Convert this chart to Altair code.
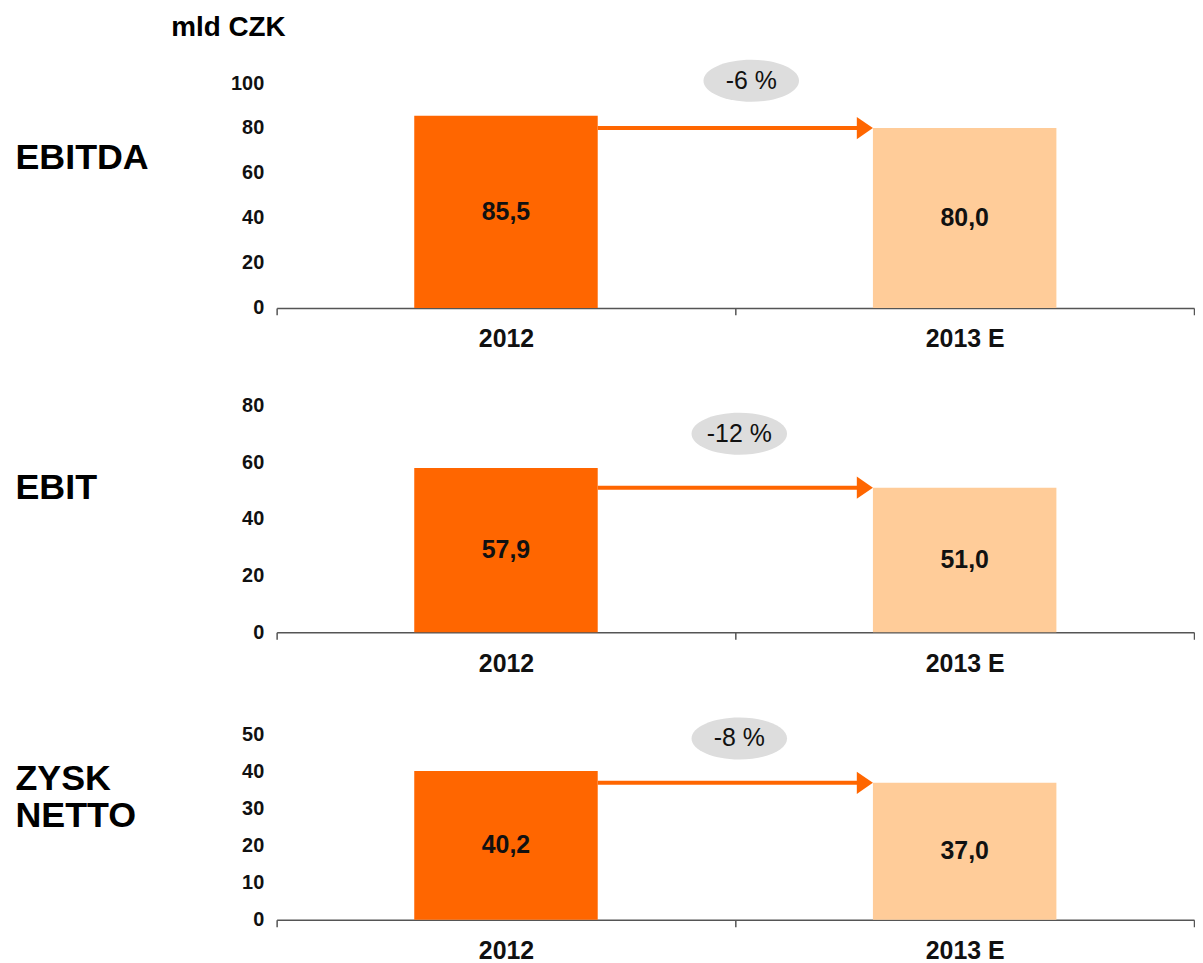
import altair as alt
import pandas as pd

# ---- data ----
categories = ["2012", "2013 E"]
panel_names = ["EBITDA", "EBIT", ["ZYSK", "NETTO"]]
ebitda = [85.5, 80.0]
ebit = [57.9, 51.0]
zysk_netto = [40.2, 37.0]
changes = ["-6 %", "-12 %", "-8 %"]
y_max = [100, 80, 50]
y_step = [20, 20, 10]
badge_y = [101, 70, 49]
unit = "mld CZK"

DARK = "#FF6600"
LIGHT = "#FFCC99"
FONT = "Liberation Sans"
W = 922
heights = [226, 228, 186]
title_y = [58, 66, 27]
badge_dx = [16, 4, 4]

ELLIPSE = "M -1 0 A 1 0.44 0 1 0 1 0 A 1 0.44 0 1 0 -1 0 Z"
ARROWHEAD = "M -1.45 -1 L 0 0 L -1.45 1 Z"


def fmt(v):
    return f"{v:.1f}".replace(".", ",")


def panel(values, name, change, ymax, step, by, h, ty, bdx):
    df = pd.DataFrame({
        "cat": categories,
        "value": values,
        "label": [fmt(v) for v in values],
    })
    xscale = alt.Scale(paddingInner=0, paddingOuter=0)
    yscale = alt.Scale(domain=[0, ymax], nice=False)
    xaxis = alt.Axis(
        title=None, labelAngle=0, labelFontSize=25, labelFontWeight="bold",
        labelColor="#111111", labelPadding=12, domainColor="#555555",
        domainWidth=1.5, tickColor="#555555", tickWidth=1.5, tickSize=7,
        tickBand="extent", grid=False,
    )
    yaxis = alt.Axis(
        title=name, titleAngle=0, titleAlign="left", titleBaseline="top",
        titleX=-263, titleY=ty, titleFontSize=36, titleFontWeight="bold",
        titleColor="#000000", titleLineHeight=37,
        values=list(range(0, ymax + 1, step)), labelFontSize=20,
        labelFontWeight="bold", labelColor="#111111", labelPadding=13,
        labelOverlap=False, labelBound=False,
        domain=False, ticks=False, grid=False,
    )
    base = alt.Chart(df)
    bars = base.mark_bar(width=alt.RelativeBandSize(0.4)).encode(
        x=alt.X("cat:N", sort=categories, scale=xscale, axis=xaxis),
        y=alt.Y("value:Q", scale=yscale, axis=yaxis),
        color=alt.Color("cat:N", sort=categories,
                        scale=alt.Scale(domain=categories, range=[DARK, LIGHT]),
                        legend=None),
    )
    labels = base.transform_calculate(mid="datum.value / 2").mark_text(
        fontSize=25, fontWeight="bold", color="#111111", font=FONT
    ).encode(
        x=alt.X("cat:N", sort=categories, axis=xaxis),
        y=alt.Y("mid:Q", axis=yaxis),
        text="label:N",
    )
    arrow_df = pd.DataFrame({
        "start": [categories[0]],
        "end": [categories[1]],
        "target": [values[1]],
    })
    arrow = alt.Chart(arrow_df).mark_rule(color=DARK, strokeWidth=4).encode(
        x=alt.X("start:N", bandPosition=0.7, axis=xaxis),
        x2=alt.X2("end", bandPosition=0.28),
        y=alt.Y("target:Q", axis=yaxis),
    )
    head = alt.Chart(arrow_df).mark_point(
        shape=ARROWHEAD, size=500, filled=True, fill=DARK, opacity=1,
        strokeWidth=0,
    ).encode(
        x=alt.X("end:N", bandPosition=0.3, axis=xaxis),
        y=alt.Y("target:Q", axis=yaxis),
    )
    badge_df = pd.DataFrame({"pos": [categories[1]], "y": [by], "txt": [change]})
    badge = alt.Chart(badge_df).mark_point(
        shape=ELLIPSE, size=9216, filled=True, fill="#DDDDDD", opacity=1,
        strokeWidth=0, xOffset=bdx,
    ).encode(
        x=alt.X("pos:N", bandPosition=0, axis=xaxis),
        y=alt.Y("y:Q", axis=yaxis),
    )
    badge_txt = alt.Chart(badge_df).mark_text(
        fontSize=25, color="#111111", font=FONT, xOffset=bdx,
    ).encode(
        x=alt.X("pos:N", bandPosition=0, axis=xaxis),
        y=alt.Y("y:Q", axis=yaxis),
        text="txt:N",
    )
    return alt.layer(bars, labels, arrow, head, badge, badge_txt).properties(
        width=W, height=h
    )


series = [ebitda, ebit, zysk_netto]
panels = [
    panel(series[i], panel_names[i], changes[i], y_max[i], y_step[i],
          badge_y[i], heights[i], title_y[i], badge_dx[i])
    for i in range(3)
]

lower = alt.vconcat(panels[1], panels[2], spacing=41)
chart = alt.vconcat(panels[0], lower, spacing=44).properties(
    title=alt.TitleParams(unit, anchor="start", fontSize=28, fontWeight="bold",
                          font=FONT, color="#000000", dx=157, offset=18),
    padding={"left": 7, "top": 3, "right": 0, "bottom": 0},
).configure(font=FONT).configure_view(stroke=None)

chart.save("out.html", embed_options={"renderer": "svg", "actions": False})
